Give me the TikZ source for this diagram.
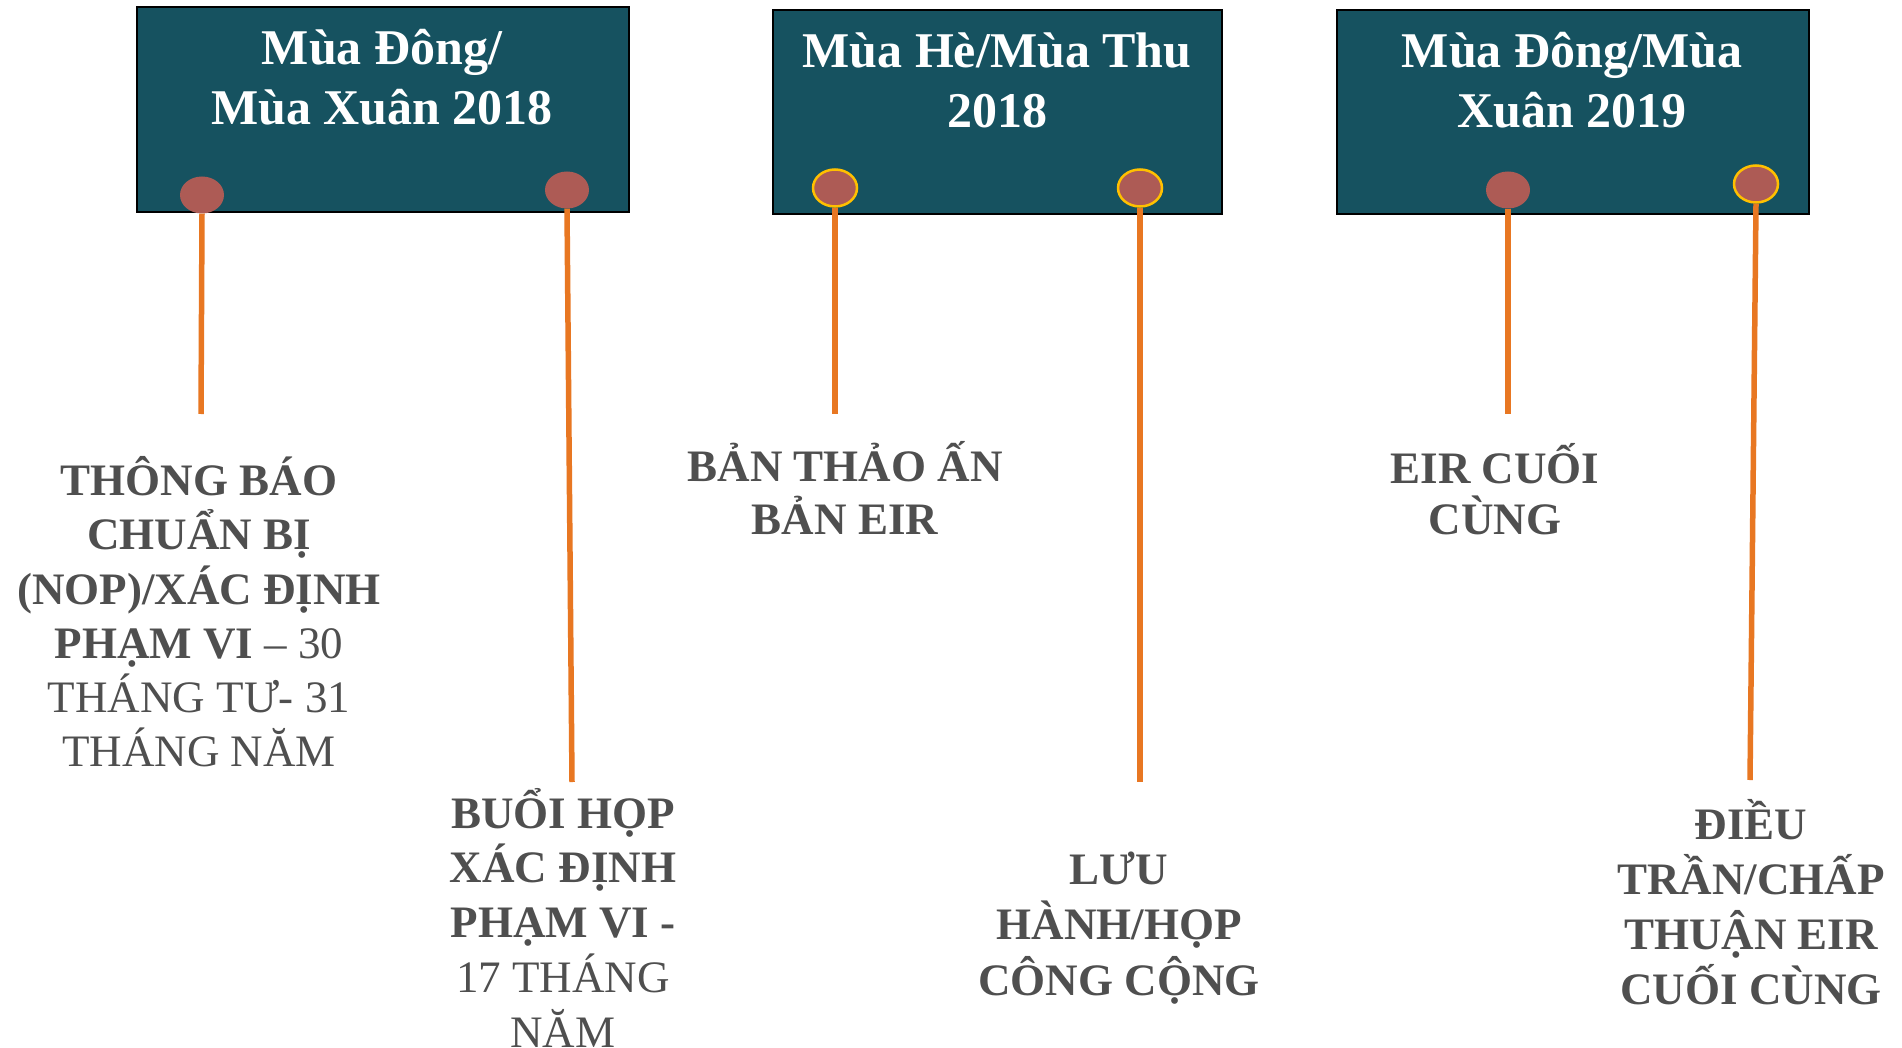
\documentclass[tikz,border=0pt]{standalone}
\usepackage{fontspec}
\setmainfont{Liberation Serif}
\usetikzlibrary{shapes.geometric}
\definecolor{boxfill}{RGB}{22,82,96}
\definecolor{dotfill}{RGB}{173,91,85}
\definecolor{dotring}{RGB}{255,192,0}
\definecolor{stem}{RGB}{232,119,34}
\definecolor{txt}{RGB}{79,79,79}
\begin{document}
\begin{tikzpicture}[x=1pt,y=-1pt,
  season/.style={draw=black,line width=2pt,fill=boxfill,inner sep=0,anchor=north west},
  head/.style={text=white,font=\fontsize{50}{60}\selectfont\bfseries,anchor=base,inner sep=0},
  bead/.style={ellipse,fill=dotfill,minimum width=44pt,minimum height=37pt,inner sep=0},
  ringbead/.style={bead,draw=dotring,line width=2.5pt},
  stemline/.style={draw=stem,line width=5.5pt},
  lbl/.style={text=txt,font=\fontsize{45}{54}\selectfont,anchor=base,inner sep=0}]
\useasboundingbox (0,0) rectangle (1902,1048);
\fill[white] (0,0) rectangle (1902,1048);

% season boxes
\node[season,minimum width=492pt,minimum height=205pt] (b1) at (136,6) {};
\node[season,minimum width=449pt,minimum height=204pt] (b2) at (772,9) {};
\node[season,minimum width=472pt,minimum height=204pt] (b3) at (1336,9) {};

\node[head] (h1a) at (382,65) {Mùa Đông/};
\node[head] (h1b) at (382,125) {Mùa Xuân 2018};
\node[head] (h2a) at (997,68) {Mùa Hè/Mùa Thu};
\node[head] (h2b) at (997,128) {2018};
\node[head] (h3a) at (1572,68) {Mùa Đông/Mùa};
\node[head] (h3b) at (1572,128) {Xuân 2019};

% beads
\node[bead] (d1) at (202,195) {};
\node[bead] (d2) at (567,190) {};
\node[ringbead] (d3) at (835,188) {};
\node[ringbead] (d4) at (1140,188) {};
\node[bead] (d5) at (1508,190) {};
\node[ringbead] (d6) at (1756,184) {};

% stem ends
\coordinate (e1) at (201,414);
\coordinate (e2) at (572,782);
\coordinate (e3) at (835,414);
\coordinate (e4) at (1140,782);
\coordinate (e5) at (1508,414);
\coordinate (e6) at (1750,780);

\draw[stemline] (d1.south) -- (e1);
\draw[stemline] (d2.south) -- (e2);
\draw[stemline] (d3.south) -- (e3);
\draw[stemline] (d4.south) -- (e4);
\draw[stemline] (d5.south) -- (e5);
\draw[stemline] (d6.south) -- (e6);

% labels
\node[lbl] (t1a) at (199,495) {\bfseries THÔNG BÁO};
\node[lbl] (t1b) at (199,549) {\bfseries CHUẨN BỊ};
\node[lbl] (t1c) at (199,604) {\bfseries (NOP)/XÁC ĐỊNH};
\node[lbl] (t1d) at (199,658) {{\bfseries PHẠM VI} – 30};
\node[lbl] (t1e) at (199,712) {THÁNG TƯ- 31};
\node[lbl] (t1f) at (199,766) {THÁNG NĂM};

\node[lbl] (t2a) at (563,828) {\bfseries BUỔI HỌP};
\node[lbl] (t2b) at (563,882) {\bfseries XÁC ĐỊNH};
\node[lbl] (t2c) at (563,937) {\bfseries PHẠM VI -};
\node[lbl] (t2d) at (563,992) {17 THÁNG};
\node[lbl] (t2e) at (563,1047) {NĂM};

\node[lbl] (t3a) at (845,481) {\bfseries BẢN THẢO ẤN};
\node[lbl] (t3b) at (845,534) {\bfseries BẢN EIR};

\node[lbl] (t4a) at (1119,884) {\bfseries LƯU};
\node[lbl] (t4b) at (1119,939) {\bfseries HÀNH/HỌP};
\node[lbl] (t4c) at (1119,995) {\bfseries CÔNG CỘNG};

\node[lbl] (t5a) at (1495,483) {\bfseries EIR CUỐI};
\node[lbl] (t5b) at (1495,534) {\bfseries CÙNG};

\node[lbl] (t6a) at (1751,839) {\bfseries ĐIỀU};
\node[lbl] (t6b) at (1751,894) {\bfseries TRẦN/CHẤP};
\node[lbl] (t6c) at (1751,949) {\bfseries THUẬN EIR};
\node[lbl] (t6d) at (1751,1004) {\bfseries CUỐI CÙNG};
\end{tikzpicture}
\end{document}
